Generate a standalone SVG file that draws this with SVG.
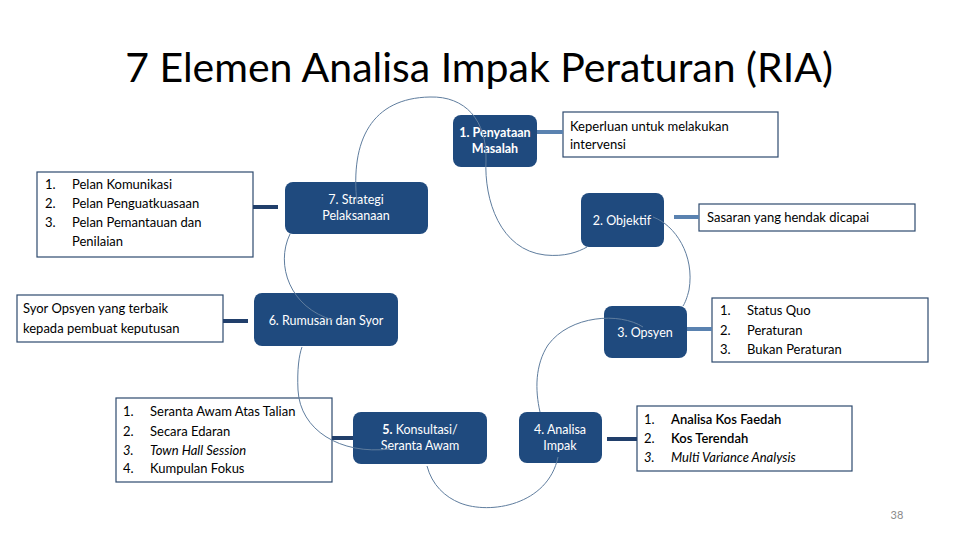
<svg xmlns="http://www.w3.org/2000/svg" width="960" height="540" viewBox="0 0 960 540">
<style>
.node{fill:#1f4a7e;}
.nt{fill:#ffffff;font-family:Lato,"Liberation Sans",sans-serif;font-size:12.5px;text-anchor:middle;}
.box{fill:#ffffff;stroke:#2e4a6e;stroke-width:1.2;}
.bt{fill:#000000;font-family:Lato,"Liberation Sans",sans-serif;font-size:13px;}
.arc{fill:none;stroke:#5f7d9e;stroke-width:1;}
.lk1{stroke:#5a82b0;stroke-width:4;}
.lk2{stroke:#213f6b;stroke-width:4;}
</style>
<rect width="960" height="540" fill="#ffffff"/>
<text x="479" y="82" font-family="Lato,'Liberation Sans',sans-serif" font-size="41" text-anchor="middle" fill="#000000">7 Elemen Analisa Impak Peraturan (RIA)</text>

<g id="node1"><rect class="node" x="453" y="115" width="84" height="52" rx="8"/><text class="nt" x="495" y="137" font-weight="bold">1. Penyataan</text><text class="nt" x="495" y="153" font-weight="bold">Masalah</text></g>
<g id="node2"><rect class="node" x="581" y="193" width="83" height="54" rx="8"/><text class="nt" x="622" y="225">2. Objektif</text></g>
<g id="node3"><rect class="node" x="604" y="306" width="83" height="52" rx="8"/><text class="nt" x="645" y="337">3. Opsyen</text></g>
<g id="node4"><rect class="node" x="519" y="412" width="83" height="51" rx="8"/><text class="nt" x="560" y="434">4. Analisa</text><text class="nt" x="560" y="450">Impak</text></g>
<g id="node5"><rect class="node" x="353" y="412" width="134" height="52" rx="8"/><text class="nt" x="420" y="434"><tspan font-weight="bold">5.</tspan> Konsultasi/</text><text class="nt" x="420" y="450">Seranta Awam</text></g>
<g id="node6"><rect class="node" x="254" y="293" width="144" height="53" rx="8"/><text class="nt" x="326" y="325">6. Rumusan dan Syor</text></g>
<g id="node7"><rect class="node" x="285" y="182" width="143" height="52" rx="8"/><text class="nt" x="356" y="204">7. Strategi</text><text class="nt" x="356" y="220">Pelaksanaan</text></g>

<g id="box-masalah"><rect class="box" x="563" y="112" width="215" height="45"/><text class="bt" x="570" y="131">Keperluan untuk melakukan</text><text class="bt" x="570" y="149">intervensi</text></g>
<g id="box-objektif"><rect class="box" x="699" y="204" width="216" height="27"/><text class="bt" x="707" y="222">Sasaran yang hendak dicapai</text></g>
<g id="box-opsyen"><rect class="box" x="712" y="298" width="216" height="64"/>
<text class="bt" x="720" y="315">1.</text><text class="bt" x="747" y="315">Status Quo</text>
<text class="bt" x="720" y="335">2.</text><text class="bt" x="747" y="335">Peraturan</text>
<text class="bt" x="720" y="354">3.</text><text class="bt" x="747" y="354">Bukan Peraturan</text></g>
<g id="box-analisa"><rect class="box" x="637" y="406" width="215" height="65"/>
<text class="bt" x="644" y="424">1.</text><text class="bt" x="671" y="424" font-weight="600">Analisa Kos Faedah</text>
<text class="bt" x="644" y="443">2.</text><text class="bt" x="671" y="443" font-weight="600">Kos Terendah</text>
<text class="bt" x="644" y="462" font-style="italic">3.</text><text class="bt" x="671" y="462" font-style="italic">Multi Variance Analysis</text></g>
<g id="box-konsultasi"><rect class="box" x="116" y="398" width="216" height="84"/>
<text class="bt" x="123" y="416">1.</text><text class="bt" x="150" y="416">Seranta Awam Atas Talian</text>
<text class="bt" x="123" y="436">2.</text><text class="bt" x="150" y="436">Secara Edaran</text>
<text class="bt" x="123" y="455" font-style="italic">3.</text><text class="bt" x="150" y="455" font-style="italic">Town Hall Session</text>
<text class="bt" x="123" y="473">4.</text><text class="bt" x="150" y="473">Kumpulan Fokus</text></g>
<g id="box-rumusan"><rect class="box" x="17" y="295" width="206" height="47"/><text class="bt" x="23" y="313">Syor Opsyen yang terbaik</text><text class="bt" x="23" y="333">kepada pembuat keputusan</text></g>
<g id="box-strategi"><rect class="box" x="37" y="172" width="216" height="85"/>
<text class="bt" x="45" y="189">1.</text><text class="bt" x="72" y="189">Pelan Komunikasi</text>
<text class="bt" x="45" y="208">2.</text><text class="bt" x="72" y="208">Pelan Penguatkuasaan</text>
<text class="bt" x="45" y="227">3.</text><text class="bt" x="72" y="227">Pelan Pemantauan dan</text>
<text class="bt" x="72" y="246">Penilaian</text></g>

<g id="connectors">
<line class="lk1" x1="537" y1="132" x2="563" y2="132"/>
<line class="lk1" x1="674" y1="217" x2="699" y2="217"/>
<line class="lk1" x1="687" y1="329" x2="712" y2="329"/>
<line class="lk2" x1="607" y1="439" x2="637" y2="439"/>
<line class="lk2" x1="332" y1="438" x2="353" y2="438"/>
<line class="lk2" x1="223" y1="321" x2="248" y2="321"/>
<line class="lk2" x1="253" y1="207" x2="278" y2="207"/>
<path class="arc" d="M357,203 C350,140 372,98 430,97 C465,96 487,120 486,160"/>
<path class="arc" d="M486,160 C484,200 500,250 545,255 C565,257 578,252 587,247"/>
<path class="arc" d="M653,217 C675,225 695,255 689,290 C687,298 685,303 683,306"/>
<path class="arc" d="M643,327 C620,312 570,315 548,345 C535,365 535,390 540,412"/>
<path class="arc" d="M558,457 C548,505 490,515 460,503 C445,497 432,485 427,466"/>
<path class="arc" d="M390,449 C340,455 300,430 298,390 C297,370 299,355 302,347"/>
<path class="arc" d="M333,320 C290,308 275,265 290,234"/>
</g>
<text x="897" y="519" font-family="Lato,'Liberation Sans',sans-serif" font-size="11" fill="#8a8a8a" text-anchor="middle">38</text>
</svg>
